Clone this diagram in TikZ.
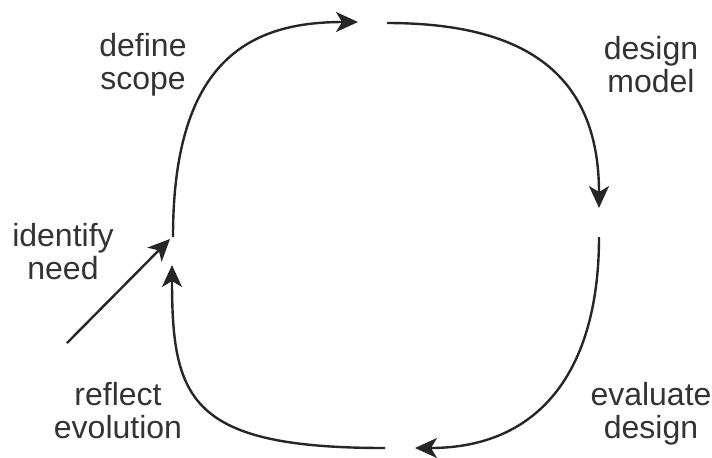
\documentclass[tikz,border=0pt]{standalone}
\usepackage{fontspec}
\setmainfont{Liberation Sans}
\usetikzlibrary{arrows.meta}

\begin{document}
\begin{tikzpicture}[x=.5pt,y=-.5pt,
    lbl/.style={align=center,text=black!80,font=\fontsize{16}{16.5}\selectfont},
    cyc/.style={line width=1.2pt,draw=black!85,-{Stealth[length=11pt,width=10pt,inset=3pt]}}]
    \useasboundingbox(0,0)rectangle(712,457);
    \coordinate(scopeS)at(173,237);\coordinate(scopeE)at(358,22);
    \coordinate(modelS)at(387,23);\coordinate(modelE)at(599,208);
    \coordinate(evalS)at(599,237);\coordinate(evalE)at(415,448);
    \coordinate(reflS)at(385,448);\coordinate(reflE)at(172,265);
    \coordinate(needS)at(67,343);\coordinate(needE)at(170,239);
    \node[lbl](scope)at(143,65){define\\scope};
    \node[lbl](model)at(651,65){design\\model};
    \node[lbl](need)at(63,252){identify\\need};
    \node[lbl](refl)at(118,411){reflect\\evolution};
    \node[lbl](eval)at(651,414){evaluate\\design};
    \draw[cyc](scopeS)..controls(173,60)and(250,22)..(scopeE);
    \draw[cyc](modelS)..controls(520,23)and(599,70)..(modelE);
    \draw[cyc](evalS)..controls(599,370)and(540,448)..(evalE);
    \draw[cyc](reflS)..controls(190,448)and(172,400)..(reflE);
    \draw[cyc](needS)--(needE);
  \end{tikzpicture}
\end{document}
